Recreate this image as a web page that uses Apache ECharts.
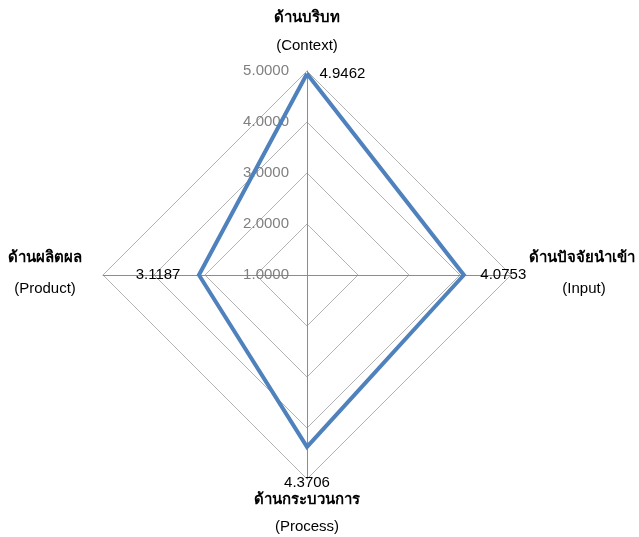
<!DOCTYPE html>
<html>
<head>
<meta charset="utf-8">
<script src="https://cdn.jsdelivr.net/npm/echarts@6/dist/echarts.min.js"></script>
<style>
html,body{margin:0;padding:0;background:#fff;}
#c{width:639px;height:537px;}
</style>
</head>
<body>
<div id="c"></div>
<script>
// Indicator order is counter-clockwise from the top (ECharts radar default)
const axisThai = ['ด้านบริบท', 'ด้านผลิตผล', 'ด้านกระบวนการ', 'ด้านปัจจัยนำเข้า'];
const axisEnglish = ['(Context)', '(Product)', '(Process)', '(Input)'];
const scores = [4.9462, 3.1187, 4.3706, 4.0753];
const tickLabels = ['1.0000', '2.0000', '3.0000', '4.0000', '5.0000'];
const axisMin = 1;
const axisMax = 5;

const FONT = '"Liberation Sans", "DejaVu Sans", "Noto Sans", sans-serif';
const chart = echarts.init(document.getElementById('c'), null, {renderer: 'canvas'});

function fmt(v) { return v.toFixed(4); }

// hidden series used only to place each vertex value label
const labelPlacement = [
  {position: 'right', distance: 12},
  {position: 'left', distance: 18},
  {position: 'bottom', distance: 28},
  {position: 'right', distance: 16}
];
const labelSeries = labelPlacement.map((pl, dim) => ({
  type: 'radar',
  silent: true,
  symbol: 'circle',
  symbolSize: 1,
  itemStyle: {color: 'rgba(0,0,0,0)'},
  lineStyle: {width: 0, opacity: 0},
  z: 5,
  label: {
    show: true,
    position: pl.position,
    distance: pl.distance,
    color: '#000',
    fontSize: 15,
    fontFamily: FONT,
    formatter: p => (p.value === scores[dim] ? fmt(p.value) : '')
  },
  data: [{value: scores}]
}));

const indicator = axisThai.map((n, i) => {
  const o = {name: n, min: axisMin, max: axisMax};
  if (i === 0) {
    o.axisLabel = {
      show: true,
      margin: 18,
      color: '#7f7f7f',
      fontSize: 15,
      fontFamily: FONT,
      formatter: (v, idx) => tickLabels[idx]
    };
  }
  return o;
});

const graphic = [];
function txt(x, y, s, align, bold, size) {
  graphic.push({
    type: 'text', x: x, y: y, silent: true,
    style: {text: s, x: 0, y: 0, textAlign: align, textVerticalAlign: 'middle',
      fill: '#000', fontSize: size, fontWeight: bold ? 'bold' : 'normal', fontFamily: FONT}
  });
}
// top: Context
txt(307, 18, axisThai[0], 'center', true, 15);
txt(307, 46, axisEnglish[0], 'center', false, 15);
// left: Product
txt(45, 258, axisThai[1], 'center', true, 15);
txt(45, 289, axisEnglish[1], 'center', false, 15);
// bottom: Process
txt(307, 500, axisThai[2], 'center', true, 15);
txt(307, 527, axisEnglish[2], 'center', false, 15);
// right: Input
txt(529, 258, axisThai[3], 'left', true, 15);
txt(584, 289, axisEnglish[3], 'center', false, 15);

chart.setOption({
  animation: false,
  backgroundColor: '#fff',
  graphic: graphic,
  radar: {
    center: [307, 275],
    radius: 204,
    startAngle: 90,
    shape: 'polygon',
    splitNumber: 4,
    indicator: indicator,
    axisName: {show: false},
    axisLabel: {show: false},
    axisTick: {show: false},
    axisLine: {show: true, lineStyle: {color: '#8c8c8c', width: 1}},
    splitLine: {show: true, lineStyle: {color: '#b3b3b3', width: 1}},
    splitArea: {show: false}
  },
  series: [{
    type: 'radar',
    silent: true,
    symbol: 'none',
    z: 3,
    lineStyle: {color: '#4f81bd', width: 4, join: 'miter'},
    data: [{value: scores}]
  }].concat(labelSeries)
});
</script>
</body>
</html>
